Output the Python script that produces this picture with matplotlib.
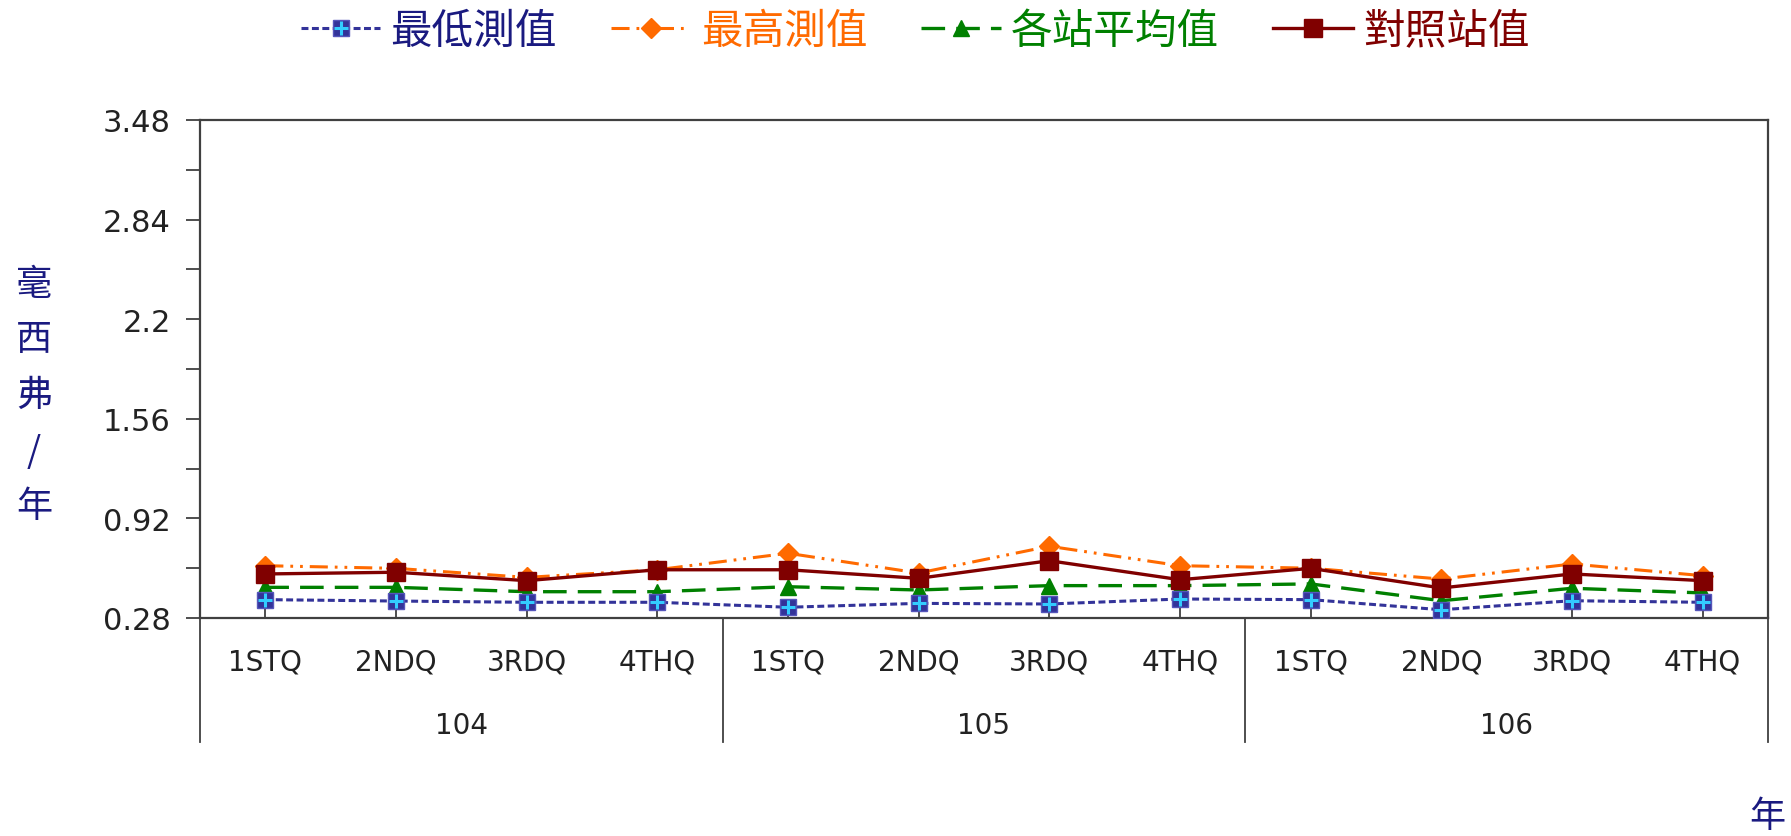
import matplotlib
matplotlib.use('Agg')
import matplotlib.pyplot as plt
import matplotlib.transforms as mtransforms
import numpy as np

# data
quarters = ['1STQ', '2NDQ', '3RDQ', '4THQ'] * 3
years = ['104', '105', '106']
min_vals = [0.398, 0.389, 0.381, 0.381, 0.349, 0.374, 0.370, 0.402, 0.398, 0.333, 0.391, 0.381]
max_vals = [0.616, 0.599, 0.541, 0.590, 0.696, 0.569, 0.741, 0.616, 0.600, 0.530, 0.627, 0.552]
avg_vals = [0.477, 0.477, 0.449, 0.449, 0.481, 0.460, 0.488, 0.488, 0.499, 0.391, 0.471, 0.441]
ref_vals = [0.563, 0.574, 0.520, 0.590, 0.590, 0.535, 0.648, 0.526, 0.599, 0.473, 0.563, 0.520]
series_names = ['最低測值', '最高測值', '各站平均值', '對照站值']
y_ticks = [0.28, 0.92, 1.56, 2.2, 2.84, 3.48]
y_tick_labels = ['0.28', '0.92', '1.56', '2.2', '2.84', '3.48']

plt.rcParams['font.family'] = ['DejaVu Sans', 'Noto Sans CJK TC']
plt.rcParams['lines.scale_dashes'] = False
cjk = ['Noto Sans CJK TC', 'DejaVu Sans']

c_min, c_plus = '#333399', '#33ccff'
c_max = '#ff6a00'
c_avg = '#008000'
c_ref = '#800000'

fig = plt.figure(figsize=(17.91, 8.37), dpi=100)
ax = fig.add_axes([200 / 1791, 1 - 619 / 837, 1568 / 1791, 498 / 837])

x = np.arange(len(quarters))

l_max, = ax.plot(x, max_vals, color=c_max, lw=2.2, ls=(0, (13, 5, 2, 5, 2, 5)),
                 marker='D', ms=10.5, mfc=c_max, mec=c_max, zorder=2)
l_avg, = ax.plot(x, avg_vals, color=c_avg, lw=2.4, ls=(0, (17, 8)),
                 marker='^', ms=12, mfc=c_avg, mec=c_avg, zorder=3)
l_min, = ax.plot(x, min_vals, color=c_min, lw=2.2, ls=(0, (5, 2.5)),
                 marker='s', ms=11.5, mfc=c_min, mec='#5555bb', zorder=4)
l_plus, = ax.plot(x, min_vals, ls='none', marker='+', ms=10, mew=2.2,
                  color=c_plus, zorder=4.5)
l_ref, = ax.plot(x, ref_vals, color=c_ref, lw=2.4, ls='-',
                 marker='s', ms=12.5, mfc=c_ref, mec=c_ref, zorder=5)

ax.set_xlim(-0.5, len(quarters) - 0.5)
ax.set_ylim(y_ticks[0], y_ticks[-1])
ax.set_yticks(y_ticks)
ax.set_yticklabels(y_tick_labels)
ax.set_yticks([(a + b) / 2 for a, b in zip(y_ticks[:-1], y_ticks[1:])], minor=True)
ax.tick_params(axis='y', which='both', direction='out', length=10, width=1.3,
               color='#404040', pad=11, labelsize=22, labelcolor='#222222')
ax.set_xticks(x)
ax.set_xticklabels(quarters)
ax.tick_params(axis='x', direction='in', length=9, width=1.3, color='#404040',
               pad=21, labelsize=20, labelcolor='#222222')
for sp in ax.spines.values():
    sp.set_color('#404040')
    sp.set_linewidth(1.6)

# group separators and year labels below the axis
trans = mtransforms.blended_transform_factory(ax.transData, ax.transAxes)
for b in [-0.5, 3.5, 7.5, 11.5]:
    ax.plot([b, b], [0, -0.249], transform=trans, color='#404040', lw=1.3,
            clip_on=False)
for i, yr in enumerate(years):
    ax.text(4 * i + 1.5, -0.214, yr, transform=trans, ha='center', va='center',
            fontsize=20, color='#222222')

# vertical y label
fig.text(34 / 1791, 1 - 396 / 837, '毫\n西\n弗\n/\n年', ha='center', va='center',
         fontsize=26, color='#1a1a80', family=cjk, linespacing=1.7)
fig.text(1767 / 1791, 1 - 817 / 837, '年', ha='center', va='center',
         fontsize=26, color='#1a1a80', family=cjk)

handles = [(l_min, l_plus), l_max, l_avg, l_ref]
leg = fig.legend(handles, series_names, loc='center', ncol=4,
                 bbox_to_anchor=(0.511, 1 - 32 / 837), frameon=False,
                 prop={'family': cjk, 'size': 30}, handlelength=1.9,
                 handletextpad=0.25, columnspacing=1.3)
for t, c in zip(leg.get_texts(), ['#1a1a80', c_max, c_avg, c_ref]):
    t.set_color(c)

fig.savefig('out.png', dpi=100)
